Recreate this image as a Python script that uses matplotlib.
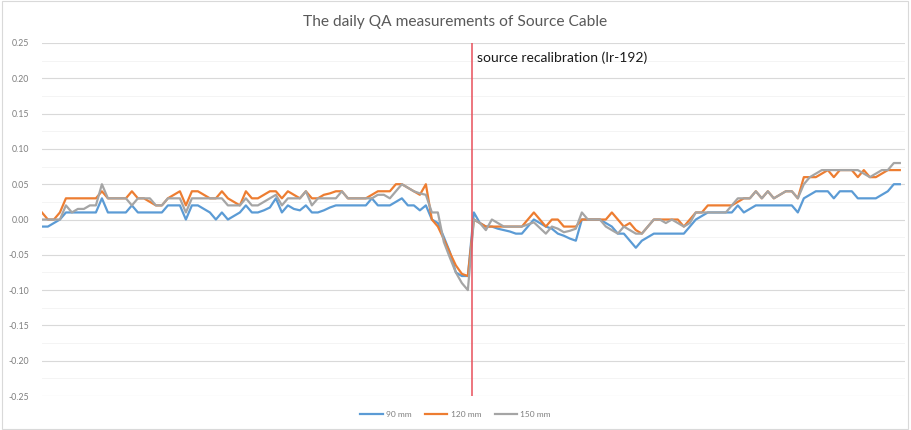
import matplotlib
matplotlib.use("Agg")
import matplotlib.pyplot as plt
from matplotlib.patches import Rectangle

plt.rcParams['font.family'] = ['Lato', 'DejaVu Sans']
plt.rcParams['axes.unicode_minus'] = False

# daily QA deviations, one value per measurement day
mm90 = [
    -0.01, -0.01, -0.005, 0.00, 0.01, 0.01, 0.01, 0.01, 0.01, 0.01,
    0.03, 0.01, 0.01, 0.01, 0.01, 0.02, 0.01, 0.01, 0.01, 0.01,
    0.01, 0.02, 0.02, 0.02, 0.00, 0.02, 0.02, 0.015, 0.01, 0.00,
    0.01, 0.00, 0.005, 0.01, 0.02, 0.01, 0.01, 0.013, 0.017, 0.03,
    0.01, 0.02, 0.015, 0.013, 0.02, 0.01, 0.01, 0.013, 0.017, 0.02,
    0.02, 0.02, 0.02, 0.02, 0.02, 0.03, 0.02, 0.02, 0.02, 0.025,
    0.03, 0.02, 0.02, 0.013, 0.02, 0.00, -0.005, -0.025, -0.046, -0.075,
    -0.08, -0.08, 0.01, -0.005, -0.01, -0.01, -0.013, -0.015, -0.017, -0.02,
    -0.02, -0.01, 0.00, -0.005, -0.01, -0.013, -0.02, -0.023, -0.027, -0.03,
    0.00, 0.00, 0.00, 0.00, -0.005, -0.01, -0.02, -0.02, -0.03, -0.04,
    -0.03, -0.025, -0.02, -0.02, -0.02, -0.02, -0.02, -0.02, -0.01, 0.00,
    0.005, 0.01, 0.01, 0.01, 0.01, 0.01, 0.02, 0.01, 0.015, 0.02,
    0.02, 0.02, 0.02, 0.02, 0.02, 0.02, 0.01, 0.03, 0.035, 0.04,
    0.04, 0.04, 0.03, 0.04, 0.04, 0.04, 0.03, 0.03, 0.03, 0.03,
    0.035, 0.04, 0.05, 0.05]

mm120 = [
    0.01, 0.00, 0.00, 0.01, 0.03, 0.03, 0.03, 0.03, 0.03, 0.03,
    0.04, 0.03, 0.03, 0.03, 0.03, 0.04, 0.03, 0.03, 0.025, 0.02,
    0.02, 0.03, 0.035, 0.04, 0.02, 0.04, 0.04, 0.035, 0.03, 0.03,
    0.04, 0.03, 0.025, 0.02, 0.04, 0.03, 0.03, 0.035, 0.04, 0.04,
    0.03, 0.04, 0.035, 0.03, 0.04, 0.03, 0.03, 0.035, 0.037, 0.04,
    0.04, 0.03, 0.03, 0.03, 0.03, 0.035, 0.04, 0.04, 0.04, 0.05,
    0.05, 0.045, 0.04, 0.035, 0.05, 0.00, -0.01, -0.028, -0.047, -0.065,
    -0.077, -0.08, 0.00, -0.005, -0.01, -0.01, -0.01, -0.01, -0.01, -0.01,
    -0.01, 0.00, 0.01, 0.00, -0.01, 0.00, 0.00, -0.01, -0.01, -0.01,
    0.00, 0.00, 0.00, 0.00, 0.00, 0.01, 0.00, -0.01, -0.005, -0.015,
    -0.02, -0.01, 0.00, 0.00, 0.00, 0.00, 0.00, -0.01, 0.00, 0.01,
    0.01, 0.02, 0.02, 0.02, 0.02, 0.02, 0.025, 0.03, 0.03, 0.04,
    0.03, 0.04, 0.03, 0.035, 0.04, 0.04, 0.03, 0.06, 0.06, 0.06,
    0.065, 0.07, 0.06, 0.07, 0.07, 0.07, 0.06, 0.07, 0.06, 0.06,
    0.065, 0.07, 0.07, 0.07]

mm150 = [
    0.00, 0.00, 0.00, 0.00, 0.02, 0.01, 0.015, 0.015, 0.02, 0.02,
    0.05, 0.03, 0.03, 0.03, 0.03, 0.02, 0.03, 0.03, 0.03, 0.02,
    0.02, 0.03, 0.03, 0.03, 0.01, 0.03, 0.03, 0.03, 0.03, 0.03,
    0.03, 0.02, 0.02, 0.02, 0.03, 0.02, 0.02, 0.025, 0.03, 0.035,
    0.02, 0.03, 0.03, 0.03, 0.04, 0.02, 0.03, 0.03, 0.03, 0.03,
    0.04, 0.03, 0.03, 0.03, 0.03, 0.03, 0.035, 0.035, 0.03, 0.04,
    0.05, 0.045, 0.04, 0.037, 0.035, 0.01, 0.01, -0.032, -0.054, -0.075,
    -0.09, -0.10, 0.00, -0.005, -0.015, 0.00, -0.005, -0.01, -0.01, -0.01,
    -0.01, -0.007, -0.004, -0.012, -0.02, -0.01, -0.013, -0.018, -0.016, -0.013,
    0.01, 0.00, 0.00, 0.00, -0.01, -0.015, -0.02, -0.01, -0.015, -0.02,
    -0.02, -0.01, 0.00, 0.00, -0.005, 0.00, -0.005, -0.01, -0.005, 0.01,
    0.01, 0.01, 0.01, 0.01, 0.01, 0.02, 0.03, 0.03, 0.03, 0.04,
    0.03, 0.04, 0.03, 0.035, 0.04, 0.04, 0.03, 0.05, 0.06, 0.065,
    0.07, 0.07, 0.07, 0.07, 0.07, 0.07, 0.07, 0.065, 0.06, 0.065,
    0.07, 0.07, 0.08, 0.08]

series_labels = ["90 mm", "120 mm", "150 mm"]
recal_day = 71.7
recal_text = "source recalibration (Ir-192)"

fig = plt.figure(figsize=(9.11, 4.30), dpi=100)
ax = fig.add_axes([0.046, 0.079, 0.947, 0.821])

days = list(range(len(mm90)))
ax.plot(days, mm90, color="#5B9BD5", lw=1.6, label=series_labels[0])
ax.plot(days, mm120, color="#ED7D31", lw=1.6, label=series_labels[1])
ax.plot(days, mm150, color="#A5A5A5", lw=1.6, label=series_labels[2])

ax.axvline(recal_day, color="#E8505B", lw=1.1, zorder=5)
ax.text(recal_day + 0.9, 0.229, recal_text, fontsize=10, color="#1a1a1a",
        va="center", ha="left")

ax.set_xlim(0, 143.8)
ax.set_ylim(-0.25, 0.25)
ax.set_yticks([-0.25 + 0.05 * k for k in range(11)])
ax.set_yticks([-0.225 + 0.05 * k for k in range(10)], minor=True)
ax.yaxis.set_major_formatter(matplotlib.ticker.FormatStrFormatter("%.2f"))
ax.set_xticks([])
ax.tick_params(axis="y", which="both", length=0, pad=9, labelsize=6.3,
               labelcolor="#7f7f7f")
ax.grid(axis="y", which="major", color="#d9d9d9", lw=0.8)
ax.grid(axis="y", which="minor", color="#f2f2f2", lw=0.6)
ax.set_axisbelow(True)
for s in ax.spines.values():
    s.set_visible(False)

fig.suptitle("The daily QA measurements of Source Cable", y=0.965,
             fontsize=11.2, color="#595959")

fig.legend(loc="center", bbox_to_anchor=(0.5, 0.037), ncol=3, frameon=False,
           fontsize=6, labelcolor="#7f7f7f", handlelength=2.7,
           columnspacing=1.6, handletextpad=0.4)

fig.patches.append(Rectangle((0.002, 0.003), 0.995, 0.994, transform=fig.transFigure,
                             fill=False, edgecolor="#d9d9d9", lw=0.8))

fig.savefig("out.png", dpi=100)
